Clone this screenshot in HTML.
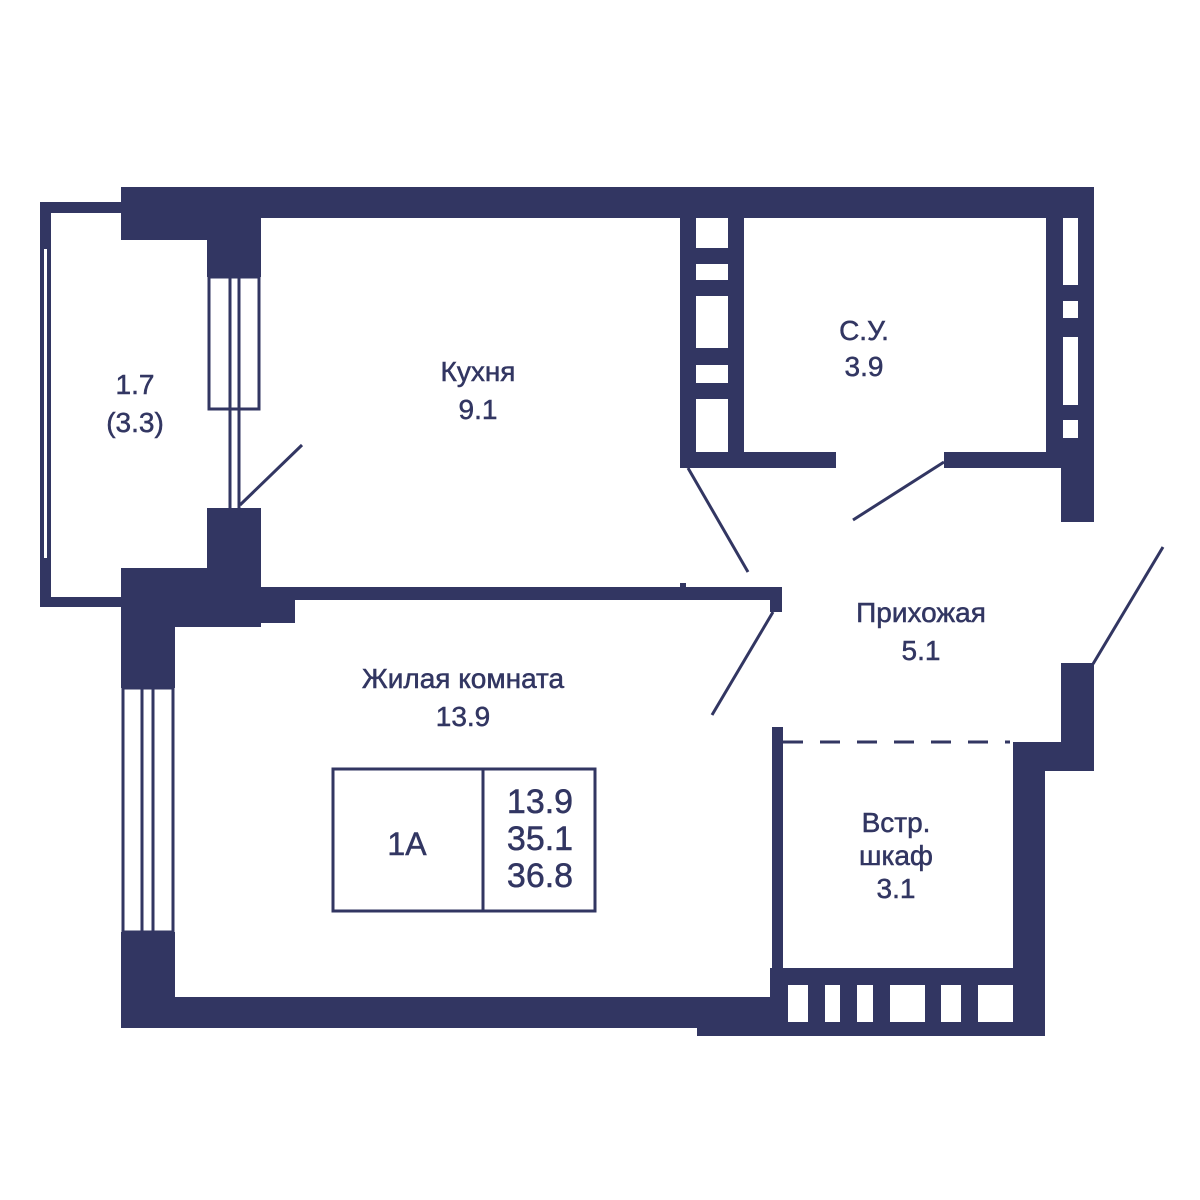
<!DOCTYPE html>
<html><head><meta charset="utf-8"><style>html,body{margin:0;padding:0;background:#fff}svg{display:block}text{font-family:"Liberation Sans","DejaVu Sans",sans-serif;fill:#323662;text-anchor:middle;stroke:#323662;stroke-width:0.5}</style></head><body>
<svg width="1200" height="1200" viewBox="0 0 1200 1200">
<g fill="#323662">
<rect x="121" y="187" width="973" height="31"/>
<rect x="121" y="187" width="140" height="53"/>
<rect x="207" y="187" width="54" height="90"/>
<rect x="40" y="202" width="81" height="11"/>
<rect x="40" y="202" width="11" height="405"/>
<rect x="40" y="597" width="81" height="10"/>
<rect x="207" y="508" width="54" height="80"/>
<rect x="121" y="568" width="140" height="59"/>
<rect x="121" y="568" width="54" height="120"/>
<rect x="121" y="932" width="54" height="96"/>
<rect x="261" y="587" width="517" height="13"/>
<rect x="261" y="587" width="34" height="36"/>
<rect x="770" y="587" width="12" height="25"/>
<rect x="680" y="583" width="6" height="5"/>
<rect x="121" y="997" width="652" height="31"/>
<rect x="697" y="1026" width="348" height="10"/>
<rect x="770" y="968" width="275" height="68"/>
<rect x="772" y="727" width="11" height="250"/>
<rect x="1013" y="742" width="32" height="294"/>
<rect x="1013" y="742" width="81" height="29"/>
<rect x="1061" y="663" width="33" height="108"/>
<rect x="680" y="218" width="64" height="250"/>
<rect x="680" y="452" width="156" height="16"/>
<rect x="944" y="452" width="150" height="16"/>
<rect x="1046" y="218" width="48" height="250"/>
<rect x="1061" y="452" width="33" height="70"/>
</g>
<g fill="#fff">
<rect x="44" y="249" width="3" height="309"/>
<rect x="696" y="218" width="32" height="30"/>
<rect x="696" y="264" width="32" height="16"/>
<rect x="696" y="296" width="32" height="52"/>
<rect x="696" y="365" width="32" height="18"/>
<rect x="696" y="399" width="32" height="53"/>
<rect x="1063" y="218" width="15" height="67"/>
<rect x="1063" y="301" width="15" height="17"/>
<rect x="1063" y="337" width="15" height="68"/>
<rect x="1063" y="420" width="15" height="18"/>
<rect x="788" y="985" width="20" height="37"/>
<rect x="825" y="985" width="15" height="37"/>
<rect x="857" y="985" width="16" height="37"/>
<rect x="890" y="985" width="35" height="37"/>
<rect x="941" y="985" width="20" height="37"/>
<rect x="978" y="985" width="35" height="37"/>
</g>
<g stroke="#323662" fill="none">
<rect x="209" y="277" width="50" height="132" stroke-width="3"/>
<line x1="230" y1="277" x2="230" y2="508" stroke-width="3"/>
<line x1="239" y1="277" x2="239" y2="508" stroke-width="3"/>
<line x1="240" y1="505" x2="302" y2="445" stroke-width="3"/>
<rect x="123" y="688" width="50" height="244" stroke-width="3"/>
<line x1="142" y1="688" x2="142" y2="932" stroke-width="3"/>
<line x1="153" y1="688" x2="153" y2="932" stroke-width="3"/>
<line x1="688" y1="468" x2="748" y2="572" stroke-width="3"/>
<line x1="944" y1="462" x2="853" y2="520" stroke-width="3"/>
<line x1="773" y1="612" x2="712" y2="715" stroke-width="3"/>
<line x1="1093" y1="664" x2="1163" y2="547" stroke-width="3"/>
<line x1="783" y1="742" x2="1010" y2="742" stroke-width="3" stroke-dasharray="20,17"/>
<rect x="333" y="769" width="262" height="142" stroke-width="3"/>
<line x1="483" y1="769" x2="483" y2="911" stroke-width="3"/>
</g>
<g font-size="28">
<text x="478" y="381">Кухня</text>
<text x="478" y="419">9.1</text>
<text x="864" y="340">С.У.</text>
<text x="864" y="376">3.9</text>
<text x="135" y="394">1.7</text>
<text x="135" y="432">(3.3)</text>
<text x="921" y="622">Прихожая</text>
<text x="921" y="660">5.1</text>
<text x="463" y="688">Жилая комната</text>
<text x="463" y="726">13.9</text>
<text x="896" y="832">Встр.</text>
<text x="896" y="865">шкаф</text>
<text x="896" y="898">3.1</text>
</g>
<text x="407" y="855" font-size="32">1А</text>
<g font-size="34">
<text x="540" y="813">13.9</text>
<text x="540" y="850">35.1</text>
<text x="540" y="887">36.8</text>
</g>
</svg>
</body></html>
